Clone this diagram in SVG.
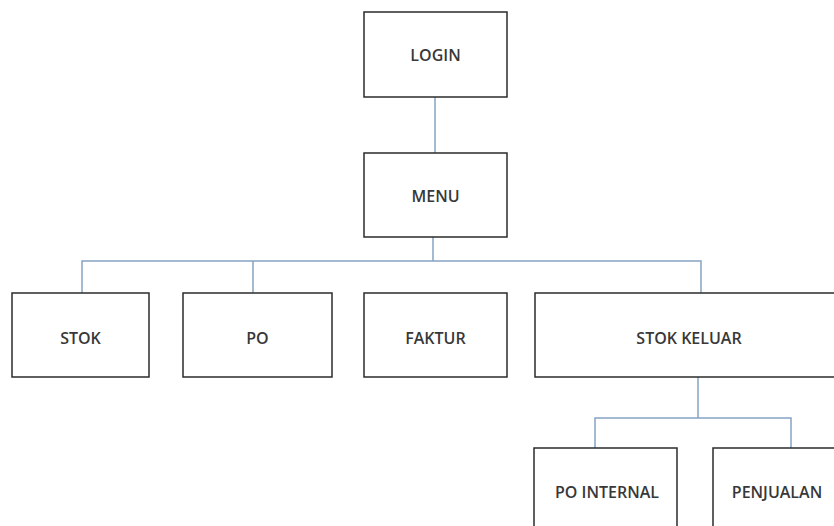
<svg xmlns="http://www.w3.org/2000/svg" width="834" height="526" viewBox="0 0 834 526">
<style>
.box{fill:#fff;stroke:#2b2b2b;stroke-width:1.5}
.lbl{font-family:"Open Sans","Liberation Sans",sans-serif;font-size:16px;font-weight:600;fill:#383838;text-anchor:middle;dominant-baseline:central}
.con{fill:none;stroke:#86a3c3;stroke-width:1.5}
</style>
<rect width="834" height="526" fill="#fff"/>
<g id="connectors">
<path class="con" d="M435 97V153"/>
<path class="con" d="M433 237V261M82 293V261H701V293M253 261V293"/>
<path class="con" d="M698 377V418M595 448V418H791V448"/>
</g>
<g id="login"><rect class="box" x="364" y="12" width="143" height="85"/><text class="lbl" x="435.5" y="55">LOGIN</text></g>
<g id="menu"><rect class="box" x="364" y="153" width="143" height="84"/><text class="lbl" x="435.5" y="196">MENU</text></g>
<g id="stok"><rect class="box" x="12" y="293" width="137" height="84"/><text class="lbl" x="80.5" y="338">STOK</text></g>
<g id="po"><rect class="box" x="183" y="293" width="149" height="84"/><text class="lbl" x="257.5" y="338">PO</text></g>
<g id="faktur"><rect class="box" x="364" y="293" width="143" height="84"/><text class="lbl" x="435.5" y="338">FAKTUR</text></g>
<g id="stok-keluar"><rect class="box" x="535" y="293" width="308" height="84"/><text class="lbl" x="689" y="338">STOK KELUAR</text></g>
<g id="po-internal"><rect class="box" x="534" y="448" width="143" height="90"/><text class="lbl" x="607" y="492">PO INTERNAL</text></g>
<g id="penjualan"><rect class="box" x="713" y="448" width="130" height="90"/><text class="lbl" x="777" y="492">PENJUALAN</text></g>
</svg>
